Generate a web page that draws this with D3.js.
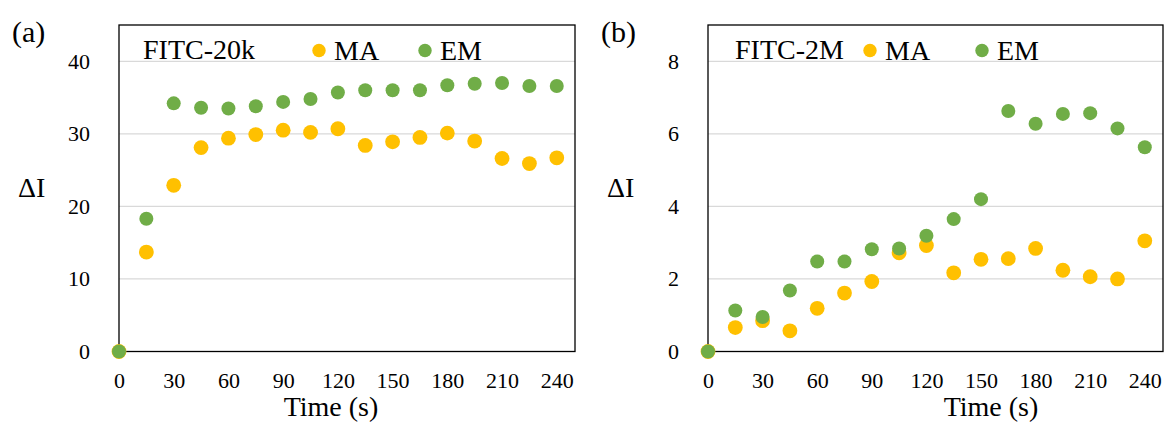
<!DOCTYPE html>
<html>
<head>
<meta charset="utf-8">
<script src="https://cdn.jsdelivr.net/npm/d3@7"></script>
<style>
  body { margin: 0; background: #fff; }
  svg, svg text { font-family: "Liberation Serif", "Times New Roman", serif; }
  svg { display: block; }
</style>
</head>
<body>
<div id="chart"></div>
<script>
// time points (s)
const times = [0, 15, 30, 45, 60, 75, 90, 105, 120, 135, 150, 165, 180, 195, 210, 225, 240]
const xTicks = [0, 30, 60, 90, 120, 150, 180, 210, 240]

// (a) FITC-20k
const maA = [0, 13.7, 22.9, 28.1, 29.4, 29.9, 30.5, 30.2, 30.7, 28.4, 28.9, 29.5, 30.1, 29.0, 26.6, 25.9, 26.7]
const emA = [0, 18.3, 34.2, 33.6, 33.5, 33.8, 34.4, 34.8, 35.7, 36.0, 36.0, 36.0, 36.7, 36.9, 37.0, 36.6, 36.6]
const yTicksA = [0, 10, 20, 30, 40]

// (b) FITC-2M
const maB = [0, 0.66, 0.85, 0.57, 1.19, 1.61, 1.93, 2.72, 2.92, 2.17, 2.54, 2.56, 2.84, 2.24, 2.06, 2.0, 3.05]
const emB = [0, 1.13, 0.95, 1.68, 2.48, 2.48, 2.82, 2.84, 3.19, 3.65, 4.2, 6.63, 6.28, 6.55, 6.57, 6.15, 5.63]
const yTicksB = [0, 2, 4, 6, 8]

const seriesNames = ['MA', 'EM']
const colors = { MA: '#FFC000', EM: '#70AD47' }

const W = 1165, H = 425
const plotTop = 25, plotBottom = 351.5
const serif = '"Liberation Serif", "Times New Roman", serif'

const svg = d3.select('#chart').append('svg')
  .attr('width', W)
  .attr('height', H)

const panels = [
  { tag: '(a)', title: 'FITC-20k', left: 119, right: 575, yMax: 45, yTicks: yTicksA, ma: maA, em: emA,
    legend: { title: 24, dot1: 200, dot2: 306 }, axisTitleX: 331 },
  { tag: '(b)', title: 'FITC-2M', left: 708, right: 1163, yMax: 9, yTicks: yTicksB, ma: maB, em: emB,
    legend: { title: 27, dot1: 162, dot2: 274 }, axisTitleX: 991 },
]

panels.forEach(p => {
  const x = d3.scaleLinear().domain([0, 250]).range([p.left, p.right])
  const y = d3.scaleLinear().domain([0, p.yMax]).range([plotBottom, plotTop])
  const g = svg.append('g')

  // gridlines
  g.append('g')
    .selectAll('line')
    .data(p.yTicks.filter(d => d > 0))
    .enter()
    .append('line')
    .attr('x1', p.left).attr('x2', p.right)
    .attr('y1', d => y(d)).attr('y2', d => y(d))
    .attr('stroke', '#d9d9d9')
    .attr('stroke-width', 1.3)

  // plot border
  g.append('rect')
    .attr('x', p.left).attr('y', plotTop)
    .attr('width', p.right - p.left).attr('height', plotBottom - plotTop)
    .attr('fill', 'none')
    .attr('stroke', '#000')
    .attr('stroke-width', 1.3)

  // y axis labels
  const yAxis = g.append('g')
    .attr('transform', `translate(${p.left},0)`)
    .call(d3.axisLeft(y).tickValues(p.yTicks).tickSize(0).tickPadding(29))
  yAxis.attr('font-family', null).style('font-family', serif)
  yAxis.select('.domain').remove()
  yAxis.selectAll('text')
    .style('font-family', serif)
    .attr('font-size', 22)
    .attr('fill', '#000')

  // x axis labels
  const xAxis = g.append('g')
    .attr('transform', `translate(0,${plotBottom})`)
    .call(d3.axisBottom(x).tickValues(xTicks).tickSize(0).tickPadding(21))
  xAxis.attr('font-family', null).style('font-family', serif)
  xAxis.select('.domain').remove()
  xAxis.selectAll('text')
    .style('font-family', serif)
    .attr('font-size', 22)
    .attr('fill', '#000')

  // points
  const data = [
    { name: 'MA', values: p.ma },
    { name: 'EM', values: p.em },
  ]
  data.forEach(s => {
    g.append('g')
      .selectAll('circle')
      .data(s.values)
      .enter()
      .append('circle')
      .attr('cx', (d, i) => x(times[i]))
      .attr('cy', d => y(d))
      .attr('r', s.name == 'MA' ? 7.4 : 7.0)
      .attr('fill', colors[s.name])
  })

  // legend
  g.append('text')
    .attr('x', p.left + p.legend.title)
    .attr('y', 59)
    .attr('font-size', 28)
    .text(p.title)
  ;[p.legend.dot1, p.legend.dot2].forEach((off, i) => {
    const name = seriesNames[i]
    g.append('circle')
      .attr('cx', p.left + off)
      .attr('cy', 50.5)
      .attr('r', 6.7)
      .attr('fill', colors[name])
    g.append('text')
      .attr('x', p.left + off + 15)
      .attr('y', 60)
      .attr('font-size', 28)
      .text(name)
  })

  // panel tag
  g.append('text')
    .attr('x', p.left - 107)
    .attr('y', 42)
    .attr('font-size', 30)
    .text(p.tag)

  // axis titles
  g.append('text')
    .attr('x', p.left - 101)
    .attr('y', 197)
    .attr('font-size', 28)
    .text('ΔI')
  g.append('text')
    .attr('x', p.axisTitleX)
    .attr('y', 416)
    .attr('text-anchor', 'middle')
    .attr('font-size', 28)
    .text('Time (s)')
})
</script>
</body>
</html>
